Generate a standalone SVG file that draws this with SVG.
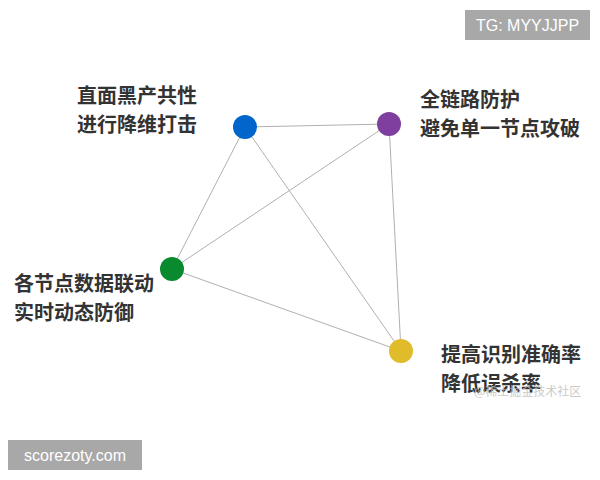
<svg xmlns="http://www.w3.org/2000/svg" width="600" height="480" viewBox="0 0 600 480">
<style>
.l{font-family:"Noto Sans CJK SC","Noto Sans",sans-serif;font-size:20px;font-weight:bold;fill:#333}
.e{stroke:#b0b0b0;stroke-width:1;fill:none}
.b{font-family:"Liberation Sans",Arial,sans-serif;font-size:16px;fill:#fff}
</style>
<rect width="600" height="480" fill="#fff"/>
<g id="connectors">
<line class="e" x1="245" y1="127" x2="389" y2="124"/>
<line class="e" x1="245" y1="127" x2="172" y2="269"/>
<line class="e" x1="245" y1="127" x2="401" y2="351"/>
<line class="e" x1="389" y1="124" x2="172" y2="269"/>
<line class="e" x1="389" y1="124" x2="401" y2="351"/>
<line class="e" x1="172" y1="269" x2="401" y2="351"/>
</g>
<g id="n1"><circle cx="245" cy="127" r="12" fill="#0066cc"/><text class="l" x="77" y="103">直面黑产共性</text><text class="l" x="77" y="132">进行降维打击</text></g>
<g id="n2"><circle cx="389" cy="124" r="12" fill="#7e3f9e"/><text class="l" x="420" y="107">全链路防护</text><text class="l" x="420" y="136">避免单一节点攻破</text></g>
<g id="n3"><circle cx="172" cy="269" r="12" fill="#0a8a2e"/><text class="l" x="14" y="291">各节点数据联动</text><text class="l" x="14" y="320">实时动态防御</text></g>
<g id="n4"><circle cx="401" cy="351" r="12" fill="#e0bb2a"/><text class="l" x="441" y="362">提高识别准确率</text><text class="l" x="441" y="391">降低误杀率</text></g>
<text x="474" y="396" font-family="Noto Sans CJK SC,sans-serif" font-size="12" fill="#bbb" fill-opacity="0.8">@稀土掘金技术社区</text>
<g id="tg"><rect x="465" y="10" width="125" height="30" fill="#a8a8a8"/><text class="b" x="527.5" y="31" text-anchor="middle">TG: MYYJJPP</text></g>
<g id="sc"><rect x="8" y="440" width="134" height="30" fill="#a8a8a8"/><text class="b" x="75" y="461" text-anchor="middle">scorezoty.com</text></g>
</svg>
